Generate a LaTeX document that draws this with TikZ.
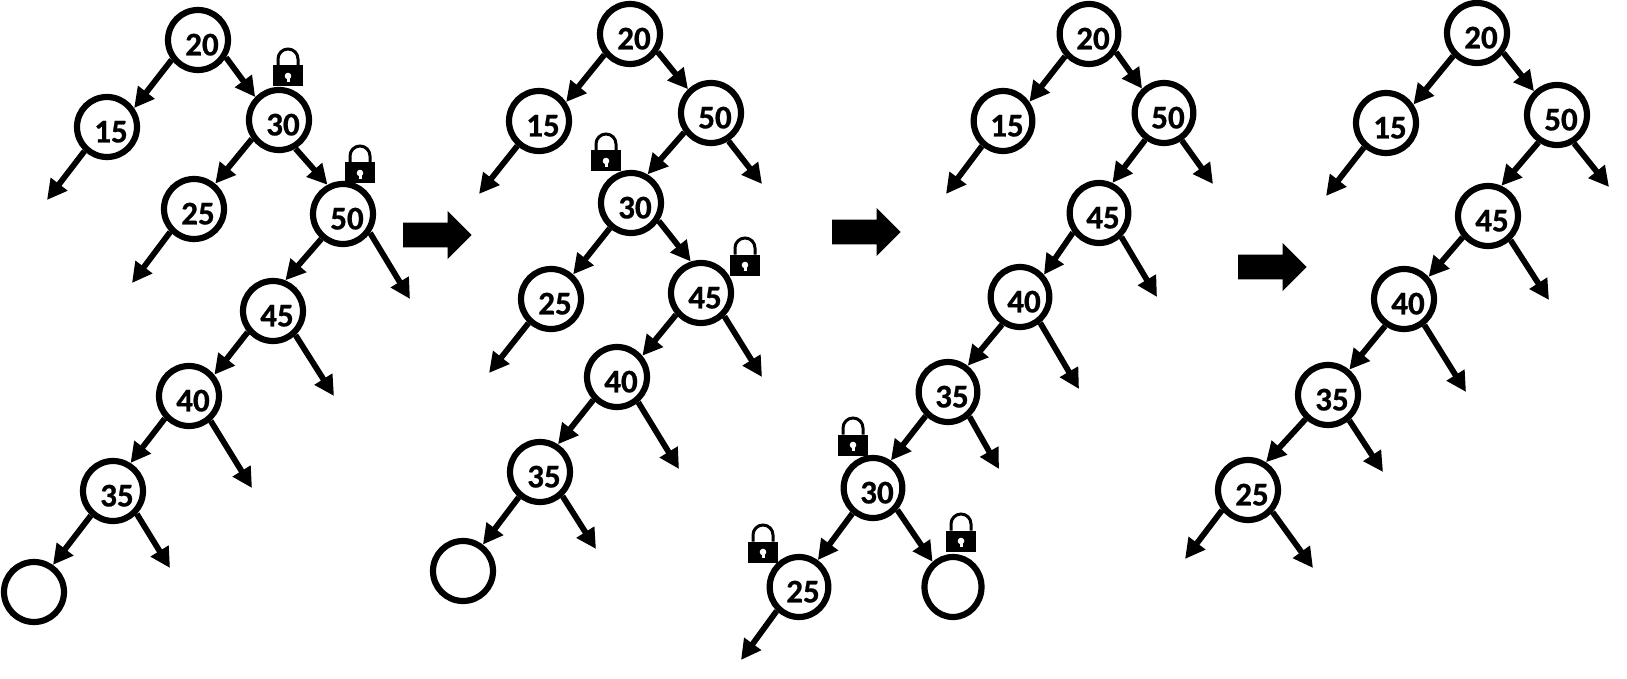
\documentclass[tikz,border=0pt]{standalone}
\usepackage{fontspec}
\setmainfont[BoldFeatures={FakeBold=0.7}]{Carlito}
\usetikzlibrary{arrows.meta,shapes.geometric}
\newcommand{\val}[1]{\hspace*{8pt}\rule{0pt}{31pt}#1}
\tikzset{
  tnode/.style={circle, draw=black, fill=white, line width=6.2pt, inner sep=0pt, minimum size=60pt, font=\fontsize{33}{36}\selectfont\bfseries},
  onode/.style={tnode, ellipse, minimum width=57pt, minimum height=60pt},
  tlink/.style={line width=5.8pt, -{Triangle[length=20pt,width=20pt]}},
  lockicon/.pic={
    \draw[line width=3pt] (-10,-10.5) -- (-10,-17) arc[start angle=180, end angle=0, radius=10pt] -- (10,-10.5);
    \fill[black] (-15,-10.5) rectangle (15,10.5);
    \fill[white] (0,0) circle (3.3pt);
    \fill[white] (-1.5,0) -- (1.5,0) -- (1.5,6) -- (-1.5,6) -- cycle;
  },
  stepmark/.pic={
    \fill[black] (0,-12.3) -- (44.5,-12.3) -- (44.5,-24) -- (68.5,0) -- (44.5,24) -- (44.5,12.3) -- (0,12.3) -- cycle;
  }
}
\begin{document}
\begin{tikzpicture}[x=1pt, y=-1pt]
\useasboundingbox (0,0) rectangle (1627,679);
% first tree
\node[tnode] (a20) at (198,40) {\val{20}};
\node[tnode] (a15) at (107,127) {\val{15}};
\node[tnode] (a30) at (279,120) {\val{30}};
\node[tnode] (a25) at (194,209) {\val{25}};
\node[tnode] (a50) at (343,214) {\val{50}};
\node[tnode] (a45) at (273,311) {\val{45}};
\node[tnode] (a40) at (189,396) {\val{40}};
\node[tnode] (a35) at (113,491) {\val{35}};
\node[tnode] (ae) at (34,592) {};
\coordinate (a15l) at (47,200);
\coordinate (a25l) at (132,283);
\coordinate (a50r) at (410,299);
\coordinate (a45r) at (334,396);
\coordinate (a40r) at (252,488);
\coordinate (a35r) at (170,568);
\draw[tlink] (a20.217) -- (a15.35);
\draw[tlink] (a20.-32) -- (a30.136);
\draw[tlink] (a15.-133) -- (a15l);
\draw[tlink] (a30.-145) -- (a25.50);
\draw[tlink] (a30.-60) -- (a50.118);
\draw[tlink] (a25.-136) -- (a25l);
\draw[tlink] (a50.-131) -- (a45.68);
\draw[tlink] (a50.-35) -- (a50r);
\draw[tlink] (a45.-140) -- (a40.40);
\draw[tlink] (a45.-47) -- (a45r);
\draw[tlink] (a40.-137) -- (a35.58);
\draw[tlink] (a40.-49) -- (a40r);
\draw[tlink] (a35.-132) -- (ae.55);
\draw[tlink] (a35.-44) -- (a35r);
\pic at (288,76) {lockicon};
\pic at (360,173) {lockicon};
\pic at (403,235) {stepmark};
% second tree
\node[tnode] (b20) at (630,34) {\val{20}};
\node[tnode] (b15) at (539,121) {\val{15}};
\node[tnode] (b50) at (711,113) {\val{50}};
\node[tnode] (b30) at (631,203) {\val{30}};
\node[tnode] (b25) at (551,299) {\val{25}};
\node[tnode] (b45) at (701,293) {\val{45}};
\node[tnode] (b40) at (617,377) {\val{40}};
\node[tnode] (b35) at (540,472) {\val{35}};
\node[tnode] (be) at (463,571) {};
\coordinate (b15l) at (479,194);
\coordinate (b50r) at (762,184);
\coordinate (b25l) at (489,373);
\coordinate (b45r) at (762,377);
\coordinate (b40r) at (679,469);
\coordinate (b35r) at (596,549);
\draw[tlink] (b20.-141) -- (b15.35);
\draw[tlink] (b20.-33) -- (b50.134);
\draw[tlink] (b15.-131) -- (b15l);
\draw[tlink] (b50.-144) -- (b30.60);
\draw[tlink] (b50.-58) -- (b50r);
\draw[tlink] (b30.-130) -- (b25.48);
\draw[tlink] (b30.-33) -- (b45.108);
\draw[tlink] (b25.-133) -- (b25l);
\draw[tlink] (b45.-139) -- (b40.40);
\draw[tlink] (b45.-45) -- (b45r);
\draw[tlink] (b40.-136) -- (b35.57);
\draw[tlink] (b40.-50) -- (b40r);
\draw[tlink] (b35.-130) -- (be.53);
\draw[tlink] (b35.-47) -- (b35r);
\pic at (606,161) {lockicon};
\pic at (745,265) {lockicon};
\pic at (832,232) {stepmark};
% third tree
\node[onode] (c20) at (1089,34) {\val{20}};
\node[onode] (c15) at (1003,121) {\val{15}};
\node[onode] (c50) at (1164,113) {\val{50}};
\node[onode] (c45) at (1099,213) {\val{45}};
\node[onode] (c40) at (1020,297) {\val{40}};
\node[onode] (c35) at (948,392) {\val{35}};
\node[onode] (c30) at (873,488) {\val{30}};
\node[onode] (c25) at (799,587) {\val{25}};
\node[onode] (ce) at (953,587) {};
\coordinate (c15l) at (946,194);
\coordinate (c50r) at (1213,184);
\coordinate (c45r) at (1157,297);
\coordinate (c40r) at (1079,389);
\coordinate (c35r) at (999,469);
\coordinate (c25l) at (741,660);
\draw[tlink] (c20.-137) -- (c15.36);
\draw[tlink] (c20.-34) -- (c50.132);
\draw[tlink] (c15.-130) -- (c15l);
\draw[tlink] (c50.-125) -- (c45.66);
\draw[tlink] (c50.-57) -- (c50r);
\draw[tlink] (c45.-143) -- (c40.43);
\draw[tlink] (c45.-47) -- (c45r);
\draw[tlink] (c40.-123) -- (c35.53);
\draw[tlink] (c40.-52) -- (c40r);
\draw[tlink] (c35.-133) -- (c30.57);
\draw[tlink] (c35.-49) -- (c35r);
\draw[tlink] (c30.-129) -- (c25.55);
\draw[tlink] (c30.-42) -- (ce.129);
\draw[tlink] (c25.-133) -- (c25l);
\pic at (853,445) {lockicon};
\pic at (763,552) {lockicon};
\pic at (961,541) {lockicon};
\pic at (1238,267) {stepmark};
% fourth tree
\node[tnode] (d20) at (1477,33) {\val{20}};
\node[tnode] (d15) at (1386,123) {\val{15}};
\node[tnode] (d50) at (1557,115) {\val{50}};
\node[tnode] (d45) at (1488,216) {\val{45}};
\node[tnode] (d40) at (1404,299) {\val{40}};
\node[tnode] (d35) at (1328,395) {\val{35}};
\node[tnode] (d25) at (1248,490) {\val{25}};
\coordinate (d15l) at (1326,196);
\coordinate (d50r) at (1609,187);
\coordinate (d45r) at (1549,300);
\coordinate (d40r) at (1466,392);
\coordinate (d35r) at (1383,472);
\coordinate (d25l) at (1185,559);
\coordinate (d25r) at (1313,568);
\draw[tlink] (d20.-136) -- (d15.34);
\draw[tlink] (d20.-37) -- (d50.134);
\draw[tlink] (d15.-132) -- (d15l);
\draw[tlink] (d50.-124) -- (d45.66);
\draw[tlink] (d50.-59) -- (d50r);
\draw[tlink] (d45.-140) -- (d40.42);
\draw[tlink] (d45.-47) -- (d45r);
\draw[tlink] (d40.-125) -- (d35.50);
\draw[tlink] (d40.-52) -- (d40r);
\draw[tlink] (d35.-133) -- (d25.57);
\draw[tlink] (d35.-50) -- (d35r);
\draw[tlink] (d25.-142) -- (d25l);
\draw[tlink] (d25.-42) -- (d25r);
\end{tikzpicture}
\end{document}
